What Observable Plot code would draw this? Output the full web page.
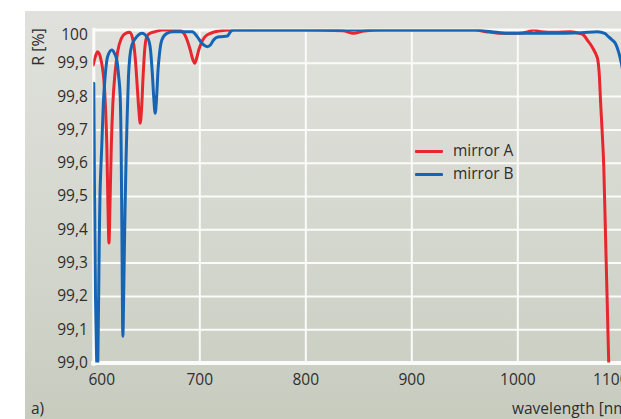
<!DOCTYPE html>
<html>
<head>
<meta charset="utf-8">
<script src="https://cdn.jsdelivr.net/npm/d3@7"></script>
<script src="https://cdn.jsdelivr.net/npm/@observablehq/plot@0.6"></script>
<style>
  html, body { margin: 0; padding: 0; background: #ffffff; }
  #wrap { position: relative; width: 621px; height: 419px; overflow: hidden; font-family: "Open Sans", "Noto Sans", sans-serif; color: #2e2e2e; }
  #panel { position: absolute; left: 25px; top: 11px; width: 620px; height: 420px;
           background: linear-gradient(to bottom, #e0e1dc 0%, #d4d7ce 55%, #c7cbbe 100%); }
  #chart { position: absolute; left: 0; top: 0; width: 640px; height: 419px; }
  #chart svg { max-width: none !important; }
  .lbl { position: absolute; font-size: 15.5px; white-space: nowrap; line-height: 1; }
  .sw { position: absolute; width: 28px; height: 3px; border-radius: 1px; }
</style>
</head>
<body>
<div id="wrap">
  <div id="panel"></div>
  <div id="chart"></div>
  <div class="lbl" style="left:31px; top:401px;">a)</div>
  <div class="lbl" style="left:512px; top:401px;">wavelength [nm]</div>
  <div class="lbl" style="left:38px; top:47px; font-size:16px; transform: translate(-50%,-50%) rotate(-90deg);">R [%]</div>
  <div class="sw" style="left:415px; top:150px; background:#e8262d;"></div>
  <div class="lbl" style="left:453px; top:143px;">mirror A</div>
  <div class="sw" style="left:415px; top:173px; background:#1565b4;"></div>
  <div class="lbl" style="left:453px; top:166px;">mirror B</div>
</div>
<script>
// ---- data ----
const seriesNames = ["mirror A", "mirror B"];

const wavelengthA = [599.5, 601.5, 603.5, 605, 606.5, 608, 609.5, 611, 612.3, 613.3, 614.3, 615.3, 616.5, 618, 620, 622.5, 626, 630, 634, 637.5, 639.5, 641, 642.5, 643.8, 645, 646.5, 648, 650, 653, 658, 665, 680, 685, 688, 691, 693.5, 695.3, 697, 699, 702, 705, 710, 718, 730, 800, 835, 845, 855, 870, 960, 970, 985, 1000, 1008, 1015, 1022, 1035, 1050, 1058, 1062, 1065.5, 1069, 1071.7, 1074, 1075.5, 1077, 1078, 1079.5, 1081.1, 1082.7, 1084.3, 1085.8, 1087];
const reflA = [99.895, 99.92, 99.935, 99.93, 99.915, 99.89, 99.85, 99.77, 99.65, 99.48, 99.36, 99.48, 99.65, 99.78, 99.87, 99.935, 99.975, 99.99, 99.993, 99.96, 99.90, 99.83, 99.76, 99.72, 99.76, 99.86, 99.94, 99.98, 99.99, 99.995, 100.0, 100.0, 99.99, 99.97, 99.94, 99.91, 99.90, 99.915, 99.94, 99.965, 99.98, 99.99, 99.997, 100.0, 100.0, 99.998, 99.99, 99.997, 100.0, 100.0, 99.995, 99.99, 99.99, 99.993, 100.0, 99.995, 99.993, 99.995, 99.99, 99.985, 99.97, 99.955, 99.94, 99.925, 99.91, 99.86, 99.79, 99.70, 99.59, 99.39, 99.19, 99.0, 98.9];

const wavelengthB = [600, 600.7, 601.6, 602.6, 603.5, 604.4, 605.2, 605.8, 606.6, 607.5, 609, 610.7, 613, 617, 619.5, 621.7, 623.5, 624.9, 625.8, 626.5, 627.4, 628.4, 629.4, 630.5, 631.5, 632.7, 634, 636, 640.6, 645.3, 651, 653.5, 655.2, 656.5, 657.9, 659.3, 660.6, 662, 664.2, 668.9, 675, 693, 697.5, 702, 707, 710, 713, 716, 720, 726, 729, 732, 800, 900, 960, 975, 990, 1000, 1030, 1060, 1075, 1082, 1085.5, 1089, 1092, 1095, 1097, 1100, 1103, 1107, 1110];
const reflB = [99.84, 99.5, 99.2, 99.02, 98.98, 99.15, 99.38, 99.5, 99.58, 99.65, 99.78, 99.86, 99.92, 99.94, 99.93, 99.91, 99.86, 99.80, 99.65, 99.40, 99.08, 99.25, 99.45, 99.62, 99.74, 99.86, 99.92, 99.955, 99.98, 99.99, 99.975, 99.94, 99.87, 99.80, 99.75, 99.80, 99.88, 99.93, 99.97, 99.99, 99.995, 99.995, 99.98, 99.96, 99.95, 99.955, 99.97, 99.978, 99.98, 99.982, 99.995, 100.0, 100.0, 100.0, 100.0, 99.995, 99.99, 99.99, 99.99, 99.992, 99.995, 99.99, 99.98, 99.97, 99.96, 99.935, 99.91, 99.85, 99.7, 99.3, 99.0];

const yTickValues = [99.0, 99.1, 99.2, 99.3, 99.4, 99.5, 99.6, 99.7, 99.8, 99.9, 100];
const yTickLabels = ["99,0", "99,1", "99,2", "99,3", "99,4", "99,5", "99,6", "99,7", "99,8", "99,9", "100"];
const xTickValues = [600, 700, 800, 900, 1000, 1100];
const xTickLabels = ["600", "700", "800", "900", "1000", "1100"];

// ---- build ----
const rows = [
  ...wavelengthA.map((w, i) => ({w, r: reflA[i], s: seriesNames[0]})),
  ...wavelengthB.map((w, i) => ({w, r: reflB[i], s: seriesNames[1]}))
];
const yFmt = d => yTickLabels[yTickValues.indexOf(d)];
const xFmt = d => xTickLabels[xTickValues.indexOf(d)];
const white = "#fbfbf9";

const chart = Plot.plot({
  width: 640,
  height: 419,
  marginLeft: 93.3,
  marginRight: 6.1,
  marginTop: 29.5,
  marginBottom: 56.5,
  x: {domain: [600, 1110]},
  y: {domain: [99, 100]},
  style: {background: "transparent", fontFamily: "'Open Sans', 'Noto Sans', sans-serif", fontSize: "15.5px", color: "#2e2e2e", overflow: "visible", maxWidth: "none"},
  marks: [
    Plot.gridY(yTickValues.slice(1, -1), {stroke: white, strokeOpacity: 1, strokeWidth: 2}),
    Plot.gridX(xTickValues.slice(1), {stroke: white, strokeOpacity: 1, strokeWidth: 2}),
    Plot.ruleY([100], {stroke: white, strokeWidth: 3}),
    Plot.ruleY([99], {stroke: white, strokeWidth: 4, x1: 598, x2: 1110}),
    Plot.ruleX([600], {stroke: white, strokeWidth: 3, y1: 98.99, y2: 100.005}),
    Plot.line(rows.filter(d => d.s === seriesNames[0]), {x: "w", y: "r", stroke: "#e8262d", strokeWidth: 3, curve: "monotone-x", clip: true}),
    Plot.line(rows.filter(d => d.s === seriesNames[1]), {x: "w", y: "r", stroke: "#1565b4", strokeWidth: 3, curve: "monotone-x", clip: true}),
    Plot.axisY(yTickValues.slice(0, -1), {tickSize: 0, tickPadding: 6, tickFormat: yFmt, label: null}),
    Plot.axisY([100], {tickSize: 0, tickPadding: 6, tickFormat: yFmt, label: null, dy: 5}),
    Plot.axisX(xTickValues.slice(1, -1), {tickSize: 0, tickPadding: 11, tickFormat: xFmt, label: null}),
    Plot.axisX([600], {tickSize: 0, tickPadding: 11, tickFormat: xFmt, label: null, dx: 8}),
    Plot.axisX([1100], {tickSize: 0, tickPadding: 11, tickFormat: xFmt, label: null, dx: -13})
  ]
});
document.getElementById("chart").appendChild(chart);
</script>
</body>
</html>
